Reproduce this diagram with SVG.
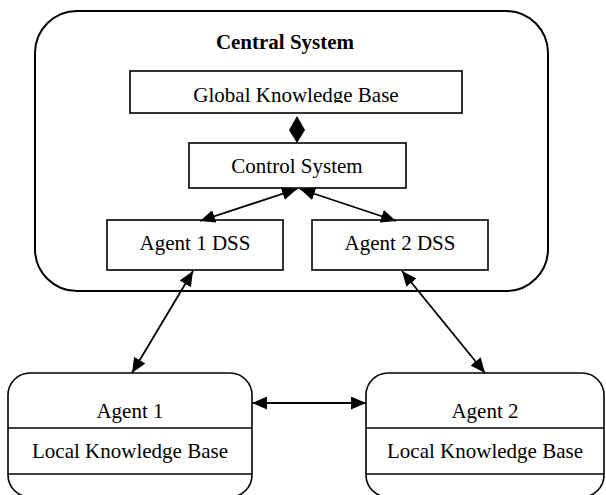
<svg xmlns="http://www.w3.org/2000/svg" width="606" height="495" viewBox="0 0 606 495">
  <style>
    .box { fill: #ffffff; stroke: #000000; stroke-width: 1.6; }
    .outer { fill: #ffffff; stroke: #000000; stroke-width: 2; }
    .label { font-family: "Liberation Serif", "Times New Roman", serif; font-size: 21px; fill: #000000; text-anchor: middle; }
    .title { font-weight: bold; }
    .link { stroke: #000000; stroke-width: 1.8; fill: none; marker-start: url(#head); marker-end: url(#head); }
  </style>
  <defs>
    <marker id="head" viewBox="0 0 15 13" refX="15" refY="6.5" markerWidth="15" markerHeight="13" markerUnits="userSpaceOnUse" orient="auto-start-reverse">
      <path d="M0,0 L15,6.5 L0,13 Z" fill="#000000"/>
    </marker>
    <clipPath id="gkbClip">
      <rect x="130" y="71" width="332" height="32"/>
    </clipPath>
  </defs>

  <rect width="606" height="495" fill="#ffffff"/>

  <!-- Central system container -->
  <g id="central-system">
    <rect class="outer" x="35" y="11" width="513" height="280" rx="42" ry="42"/>
    <text class="label title" x="285" y="49">Central System</text>
  </g>

  <g id="global-knowledge-base">
    <rect class="box" x="130" y="71" width="332" height="42"/>
    <text class="label" x="296" y="102" clip-path="url(#gkbClip)">Global Knowledge Base</text>
  </g>

  <g id="control-system">
    <rect class="box" x="189" y="143" width="217" height="45"/>
    <text class="label" x="297" y="173">Control System</text>
  </g>

  <g id="agent1-dss">
    <rect class="box" x="107" y="220" width="176" height="50"/>
    <text class="label" x="195" y="250">Agent 1 DSS</text>
  </g>

  <g id="agent2-dss">
    <rect class="box" x="312" y="220" width="176" height="50"/>
    <text class="label" x="400" y="250">Agent 2 DSS</text>
  </g>

  <!-- Remote agents -->
  <g id="agent1">
    <rect class="box" x="8" y="373" width="244" height="124" rx="22" ry="22"/>
    <line x1="8" y1="428" x2="252" y2="428" stroke="#000" stroke-width="1.6"/>
    <line x1="8" y1="474" x2="252" y2="474" stroke="#000" stroke-width="1.6"/>
    <text class="label" x="130" y="418">Agent 1</text>
    <text class="label" x="130" y="458">Local Knowledge Base</text>
  </g>

  <g id="agent2">
    <rect class="box" x="366" y="373" width="238" height="124" rx="22" ry="22"/>
    <line x1="366" y1="428" x2="604" y2="428" stroke="#000" stroke-width="1.6"/>
    <line x1="366" y1="474" x2="604" y2="474" stroke="#000" stroke-width="1.6"/>
    <text class="label" x="485" y="418">Agent 2</text>
    <text class="label" x="485" y="458">Local Knowledge Base</text>
  </g>

  <!-- Connectors -->
  <g id="connectors">
    <polygon points="297,116 305,130 297,143 289,130" fill="#000000"/>
    <line class="link" x1="297" y1="189" x2="200" y2="221"/>
    <line class="link" x1="300" y1="189" x2="396" y2="221"/>
    <line class="link" x1="193" y1="271" x2="132" y2="373"/>
    <line class="link" x1="402" y1="271" x2="485" y2="373"/>
    <line class="link" x1="252" y1="403" x2="366" y2="403"/>
  </g>
</svg>
